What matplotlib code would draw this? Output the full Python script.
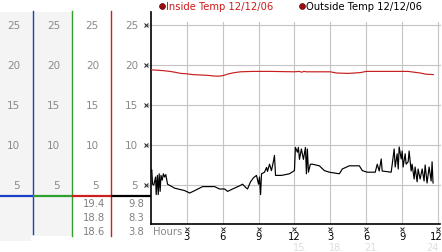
import matplotlib
matplotlib.use("Agg")
import matplotlib.pyplot as plt
from matplotlib.transforms import blended_transform_factory
from matplotlib.patches import Rectangle

# ---------------- data ----------------
scale_ticks = [5, 10, 15, 20, 25]
hour_ticks = [3, 6, 9, 12, 15, 18, 21, 24]
hour_labels = ["3", "6", "9", "12", "3", "6", "9", "12"]
faint_labels = ["15.", "18.", "21.", "24"]
legend_labels = ["Inside Temp 12/12/06", "Outside Temp 12/12/06"]
inside_stats = ["19.4", "18.8", "18.6"]
outside_stats = ["9.8", "8.3", "3.8"]

in_hours = [0.0, 0.5, 1.0, 1.6, 2.0, 2.5, 3.0, 3.5, 4.2, 4.8, 5.3, 5.7, 6.1,
            6.5, 7.0, 7.5, 8.5, 10.0, 12.0, 12.4, 12.6, 12.8, 13.0, 13.3,
            15.0, 15.5, 16.5, 17.5, 18.0, 20.0, 21.5, 22.0, 22.5, 23.0, 23.6]
in_temps = [19.4, 19.35, 19.3, 19.2, 19.1, 18.95, 18.9, 18.8, 18.75, 18.7,
            18.62, 18.6, 18.7, 18.9, 19.05, 19.15, 19.2, 19.2, 19.15, 19.2,
            19.1, 19.2, 19.15, 19.15, 19.15, 19.0, 18.95, 19.05, 19.2, 19.2,
            19.2, 19.1, 19.0, 18.85, 18.8]

out_hours = [0.0, 0.08, 0.15, 0.25, 0.4, 0.45, 0.55, 0.62, 0.7, 0.78, 0.85,
             0.95, 1.05, 1.15, 1.25, 1.4, 2.0, 2.83, 3.25, 3.67, 4.33, 5.33,
             5.75, 6.17, 6.42, 6.83, 7.42, 7.67, 7.92, 8.08, 8.33, 8.58, 8.83,
             9.0, 9.08, 9.17, 9.25, 9.5, 9.67, 9.75, 9.92, 10.08, 10.25, 10.33,
             10.42, 10.92, 11.58, 12.0, 12.08, 12.25, 12.33, 12.42, 12.58,
             12.75, 12.92, 13.0, 13.08, 13.17, 13.33, 13.5, 14.08, 14.5, 14.92,
             15.75, 16.0, 16.58, 17.42, 17.67, 18.08, 18.75, 18.92, 19.08,
             19.25, 19.33, 20.08, 20.17, 20.33, 20.42, 20.58, 20.67, 20.75,
             20.92, 21.0, 21.08, 21.25, 21.33, 21.5, 21.58, 21.75, 21.83, 22.0,
             22.08, 22.25, 22.33, 22.5, 22.67, 22.83, 22.92, 23.08, 23.25,
             23.42, 23.5, 23.58]
out_temps = [6.7, 6.9, 5.1, 5.0, 6.0, 3.8, 6.2, 3.8, 6.4, 4.2, 6.2,
             5.6, 6.4, 6.0, 6.3, 5.1, 4.6, 4.3, 4.0, 4.3, 4.8, 4.8,
             4.5, 4.5, 4.2, 4.5, 4.9, 5.1, 4.7, 4.5, 5.4, 5.9, 6.2,
             5.1, 6.0, 3.8, 6.4, 6.6, 7.2, 6.7, 7.6, 6.8, 8.0, 8.7,
             6.2, 6.2, 6.4, 6.8, 9.7, 9.1, 9.7, 8.2, 9.5,
             8.2, 9.7, 6.4, 9.5, 6.6, 7.6, 7.6, 7.4, 6.8, 6.6,
             6.4, 7.0, 7.4, 7.4, 6.8, 6.6, 6.6, 7.6, 6.75,
             8.25, 6.75, 6.6, 7.6, 9.5, 7.25, 8.9, 7.0, 9.75,
             8.25, 9.25, 7.25, 8.9, 7.6, 7.9, 9.25, 6.75, 7.6, 5.75,
             7.25, 5.4, 7.0, 5.75, 7.0, 5.5, 7.5, 5.25, 7.25,
             5.5, 7.9, 5.25]

# ---------------- figure ----------------
W, H = 442, 253
fig = plt.figure(figsize=(W / 100, H / 100), dpi=100)
fig.patch.set_facecolor("white")

bg = fig.add_axes([0, 0, 1, 1])
bg.set_xlim(0, W)
bg.set_ylim(H, 0)
bg.axis("off")

x0, x1 = 150.8, 440.0
ytop, ybot = 13.0, 225.0
ax = fig.add_axes([x0 / W, (H - ybot) / H, (x1 - x0) / W, (ybot - ytop) / H])
ax.set_zorder(2)
ax.patch.set_alpha(0)
px_per_h = 11.97
ax.set_xlim(0, (x1 - x0) / px_per_h)
ax.set_ylim((226 - ybot) / 8.0, (226 - ytop) / 8.0)
for s in ["top", "right"]:
    ax.spines[s].set_visible(False)
for s in ["left", "bottom"]:
    ax.spines[s].set_color("black")
    ax.spines[s].set_linewidth(1.2)
ax.set_xticks([])
ax.set_yticks([])

GRID = "#c4c4c4"
xl = ax.get_xlim()
for v in scale_ticks:
    ax.plot([-0.4, xl[1]], [v, v], color=GRID, lw=0.8, clip_on=False, zorder=1)
    ax.plot([-0.38], [v], marker="x", ms=3, mew=0.8, color="#333333",
            clip_on=False, zorder=3)
for h in hour_ticks:
    ax.plot([h, h], [25.35, ax.get_ylim()[0]], color=GRID, lw=0.8, zorder=1)
    ax.plot([h], [-0.45], marker="x", ms=2.6, mew=0.7, color="#333333",
            clip_on=False, zorder=3)
for h, lab in zip(hour_ticks, hour_labels):
    hh = h - 0.15 if h == 24 else h
    ax.text(hh, -1.35, lab, ha="center", va="center", fontsize=7.2,
            color="black", clip_on=False)
for h, lab in zip(hour_ticks[4:], faint_labels):
    ax.text(h - 2.5 if lab != "24" else h - 0.5, -2.75, lab, ha="center",
            va="center", fontsize=7, color="#dedede", clip_on=False)

ax.plot(in_hours, in_temps, color="#c81e1e", lw=0.85, zorder=4)
ax.plot(out_hours, out_temps, color="black", lw=0.85, zorder=4)

# ---------------- left scale panels ----------------
bg.add_patch(Rectangle((0, 13), 31, 229, color="#f4f4f4", lw=0, zorder=0))
bg.add_patch(Rectangle((31, 13), 41, 224, color="#f4f4f4", lw=0, zorder=0))

bg.plot([33, 33], [12, 235], color="#1b3fc4", lw=1.0)
bg.plot([72, 72], [12, 237], color="#2ea02e", lw=1.0)
bg.plot([111, 111], [12, 237], color="#cc2020", lw=1.0)
bg.plot([0, 33], [196.7, 196.7], color="#1b3fc4", lw=1.6, solid_capstyle="butt")
bg.plot([33, 72], [196.7, 196.7], color="#2ea02e", lw=1.6, solid_capstyle="butt")
bg.plot([72, 111], [196.7, 196.7], color="#cc2020", lw=1.6, solid_capstyle="butt")
bg.plot([111, 151], [196.7, 196.7], color="black", lw=1.6, solid_capstyle="butt")

tr = blended_transform_factory(bg.transData, ax.transData)
for v in scale_ticks:
    for xr in [20, 60, 99, 138]:
        bg.text(xr, v, str(v), transform=tr, ha="right", va="center",
                fontsize=7.5, color="#8a8a8a")

for i, (a, b) in enumerate(zip(inside_stats, outside_stats)):
    y = 204 + i * 14
    bg.text(105, y, a, ha="right", va="center", fontsize=7.2, color="#808080")
    bg.text(144, y, b, ha="right", va="center", fontsize=7.2, color="#808080")

bg.text(153, 232, "Hours", ha="left", va="center", fontsize=7.2, color="#8a8a8a")

# ---------------- legend ----------------
bg.plot([161.7], [6.5], marker="o", ms=4.2, color="#9a0f0f", mec="#5a0000", mew=0.5)
bg.text(166, 6.5, legend_labels[0], ha="left", va="center", fontsize=7.2,
        color="#cc1a1a")
bg.plot([301.7], [6.5], marker="o", ms=4.2, color="#9a0f0f", mec="#5a0000", mew=0.5)
bg.text(305.5, 6.5, legend_labels[1], ha="left", va="center", fontsize=7.2,
        color="black")

fig.savefig("out.png", dpi=100)
